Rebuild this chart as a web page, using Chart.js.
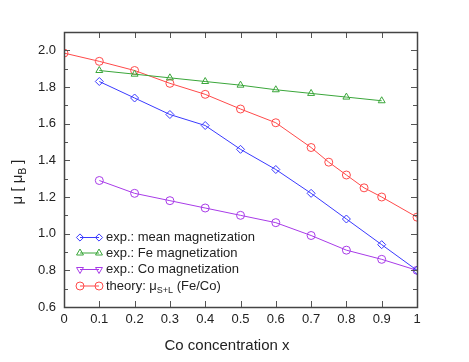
<!DOCTYPE html>
<html><head><meta charset="utf-8">
<script src="https://cdn.jsdelivr.net/npm/chart.js@4.4.1/dist/chart.umd.min.js"></script>
<style>html,body{margin:0;padding:0;background:#fff}#wrap{width:469px;height:362px}</style>
</head><body><div id="wrap"><canvas id="c" width="469" height="362"></canvas></div>
<script>
const xExp = [0.1,0.2,0.3,0.4,0.5,0.6,0.7,0.8,0.9,1.0];
const meanMag = [1.83,1.74,1.65,1.59,1.46,1.35,1.22,1.08,0.94,0.80];
const xFe = [0.1,0.2,0.3,0.4,0.5,0.6,0.7,0.8,0.9];
const feMag = [1.89,1.87,1.85,1.83,1.81,1.785,1.765,1.745,1.725];
const coMag = [1.29,1.22,1.18,1.14,1.10,1.06,0.99,0.91,0.86,0.80];
const xTheory = [0,0.1,0.2,0.3,0.4,0.5,0.6,0.7,0.75,0.8,0.85,0.9,1.0];
const theory = [1.985,1.94,1.89,1.82,1.76,1.68,1.605,1.47,1.39,1.32,1.25,1.20,1.09];
const xTicks = [0,0.1,0.2,0.3,0.4,0.5,0.6,0.7,0.8,0.9,1];
const xTickLabels = ['0','0.1','0.2','0.3','0.4','0.5','0.6','0.7','0.8','0.9','1'];
const yTicks = [0.6,0.8,1.0,1.2,1.4,1.6,1.8,2.0];
const legendLabels = ['exp.: mean magnetization','exp.: Fe magnetization','exp.: Co magnetization','theory: '];

const BLUE='#3a3aff', GREEN='#3aa63a', PURPLE='#a83be8', RED='#ff4a4a';
const FONT='"Liberation Sans", Arial, sans-serif';
const pts=(xs,ys)=>xs.map((x,i)=>({x:x,y:ys[i]}));
const STY=['rectRot','triangle','triangleDown','circle'];
const RAD=[4,4,4,4];

function marker(c,style,x,y,r){
  c.beginPath();
  if(style==='rectRot'){const d=r*0.9;c.moveTo(x,y-d);c.lineTo(x+d,y);c.lineTo(x,y+d);c.lineTo(x-d,y);c.closePath();}
  else if(style==='triangle'){const h=r*Math.sqrt(3)/2;c.moveTo(x,y-r);c.lineTo(x+h,y+r/2);c.lineTo(x-h,y+r/2);c.closePath();}
  else if(style==='triangleDown'){const h=r*Math.sqrt(3)/2;c.moveTo(x,y+r);c.lineTo(x+h,y-r/2);c.lineTo(x-h,y-r/2);c.closePath();}
  else {c.arc(x,y,r,0,Math.PI*2);c.closePath();}
  c.stroke();
}

const frame = {
  id:'frame',
  afterDraw(ch){
    const c=ch.ctx, a=ch.chartArea, xs=ch.scales.x, ys=ch.scales.y;
    c.save();
    c.strokeStyle='#555'; c.lineWidth=1;
    c.beginPath();
    xTicks.forEach(v=>{const p=Math.round(xs.getPixelForValue(v))+0.5;
      c.moveTo(p,a.bottom);c.lineTo(p,a.bottom-6);c.moveTo(p,a.top);c.lineTo(p,a.top+6);});
    for(let v=0.6;v<=2.101;v+=0.1){const p=Math.round(ys.getPixelForValue(v))+0.5;
      const major=Math.abs(v*5-Math.round(v*5))<1e-6; const L=major?6:4;
      c.moveTo(a.left,p);c.lineTo(a.left+L,p);c.moveTo(a.right,p);c.lineTo(a.right-L,p);}
    c.stroke();
    c.lineWidth=1.5; c.strokeStyle='#444';
    c.strokeRect(Math.round(a.left)+0.5,Math.round(a.top)+0.5,Math.round(a.right-a.left),Math.round(a.bottom-a.top));
    // legend
    const cols=[BLUE,GREEN,PURPLE,RED];
    const lx0=80, lx1=99, tx=106, ry=[237.5,253,269.5,286];
    c.textBaseline='middle'; c.textAlign='left';
    for(let i=0;i<4;i++){
      c.strokeStyle=cols[i]; c.lineWidth=1;
      c.beginPath();c.moveTo(lx0,ry[i]);c.lineTo(lx1,ry[i]);c.stroke();
      marker(c,STY[i],lx0,ry[i],RAD[i]);
      marker(c,STY[i],lx1,ry[i],RAD[i]);
      c.font='13px '+FONT; c.fillStyle='#222'; c.fillText(legendLabels[i],tx,ry[i]);
    }
    c.font='13px '+FONT;
    let x=tx+c.measureText(legendLabels[3]).width;
    c.fillText('μ',x,ry[3]); x+=c.measureText('μ').width;
    c.font='9px '+FONT; c.fillText('S+L',x,ry[3]+5); x+=c.measureText('S+L').width;
    c.font='13px '+FONT; c.fillText(' (Fe/Co)',x,ry[3]);
    // axis titles
    c.font='15px '+FONT; c.fillStyle='#222'; c.textAlign='center';
    c.fillText('Co concentration x',227,346);
    c.save(); c.translate(18,182); c.rotate(-Math.PI/2);
    c.textAlign='left';
    const p1='μ [ μ', p2='B', p3=' ]';
    c.font='15px '+FONT; const w1=c.measureText(p1).width, w3=c.measureText(p3).width;
    c.font='10px '+FONT; const w2=c.measureText(p2).width;
    let sx=-(w1+w2+w3)/2;
    c.font='15px '+FONT; c.fillText(p1,sx,0); sx+=w1;
    c.font='10px '+FONT; c.fillText(p2,sx,5); sx+=w2;
    c.font='15px '+FONT; c.fillText(p3,sx,0);
    c.restore();
    c.restore();
  }
};

const ds=(label,data,col,i)=>({label,data,borderColor:col,backgroundColor:'rgba(0,0,0,0)',
  borderWidth:1,pointStyle:STY[i],pointRadius:RAD[i],pointBorderWidth:1,pointBorderColor:col,
  pointBackgroundColor:'rgba(0,0,0,0)',tension:0});

new Chart(document.getElementById('c'),{
  type:'line',
  data:{datasets:[
    ds('exp.: mean magnetization',pts(xExp,meanMag),BLUE,0),
    ds('exp.: Fe magnetization',pts(xFe,feMag),GREEN,1),
    ds('exp.: Co magnetization',pts(xExp,coMag),PURPLE,2),
    ds('theory',pts(xTheory,theory),RED,3)
  ]},
  options:{
    responsive:false,animation:false,
    layout:{padding:{top:32,right:52,left:0,bottom:0}},
    plugins:{legend:{display:false},tooltip:{enabled:false}},
    scales:{
      x:{type:'linear',min:0,max:1,
        afterBuildTicks(s){s.ticks=xTicks.map(v=>({value:v}));},
        afterFit(s){s.height=55;},
        ticks:{callback:(v)=>xTickLabels[xTicks.findIndex(t=>Math.abs(t-v)<1e-9)],font:{size:13,family:FONT},color:'#222',padding:5,maxRotation:0},
        grid:{display:false,drawTicks:false},border:{display:false}},
      y:{type:'linear',min:0.6,max:2.1,
        afterBuildTicks(s){s.ticks=yTicks.map(v=>({value:v}));},
        afterFit(s){s.width=64;},
        ticks:{callback:(v)=>v.toFixed(1),font:{size:13,family:FONT},color:'#222',padding:8},
        grid:{display:false,drawTicks:false},border:{display:false}}
    }
  },
  plugins:[frame]
});
</script></body></html>
